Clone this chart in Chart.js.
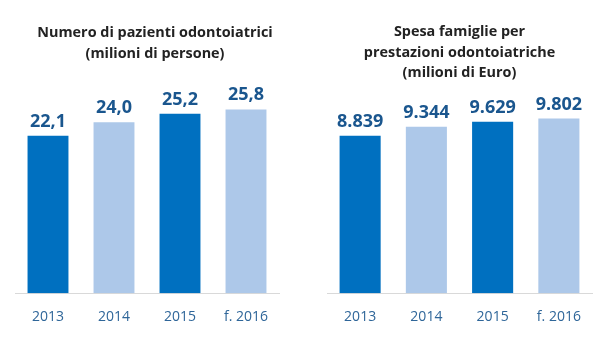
<!DOCTYPE html>
<html>
<head>
<meta charset="utf-8">
<script src="https://cdn.jsdelivr.net/npm/chart.js@4.4.1/dist/chart.umd.min.js"></script>
<style>
  html, body { margin: 0; padding: 0; background: #fff; }
  #wrap { position: relative; width: 608px; height: 342px; }
  canvas { position: absolute; top: 0; }
  #left { left: 0; }
  #right { left: 304px; }
</style>
</head>
<body>
<div id="wrap">
  <canvas id="left" width="304" height="342"></canvas>
  <canvas id="right" width="304" height="342"></canvas>
</div>
<script>
// Data
const years = ["2013", "2014", "2015", "f. 2016"];
const patients = [22.1, 24.0, 25.2, 25.8];          // milioni di persone
const spending = [8839, 9344, 9629, 9802];          // milioni di Euro
const leftTitle = ["Numero di pazienti odontoiatrici", "(milioni di persone)"];
const rightTitle = ["Spesa famiglie per", "prestazioni odontoiatriche", "(milioni di Euro)"];

const DARK = "#0070c0";
const LIGHT = "#adc8e9";
const FONT = "'Open Sans', 'Noto Sans', sans-serif";

// Italian number formats
function fmtDecimal(v) { return v.toFixed(1).replace(".", ","); }
function fmtThousands(v) { return String(v).replace(/\B(?=(\d{3})+(?!\d))/g, "."); }

// Draws the value above each bar
const valueLabels = {
    id: "valueLabels",
    afterDatasetsDraw(chart, args, opts) {
        const ctx = chart.ctx;
        const meta = chart.getDatasetMeta(0);
        ctx.save();
        ctx.font = "bold 18px " + FONT;
        ctx.fillStyle = "#1a568e";
        ctx.textAlign = "center";
        ctx.textBaseline = "alphabetic";
        meta.data.forEach((bar, i) => {
            const v = chart.data.datasets[0].data[i];
            ctx.fillText(opts.format(v), bar.x, bar.y - 9);
        });
        ctx.restore();
    }
};

function makeChart(id, values, title, yMax, fmt, pad, titlePad, rightGap) {
    const scales = {
        x: {
            grid: { display: false, drawTicks: false },
            border: { display: true, color: "#d9d9d9", width: 1 },
            ticks: { color: "#2f6699", font: { family: FONT, size: 14 }, padding: 15 }
        },
        y: { display: false, min: 0, max: yMax }
    };
    if (rightGap) {
        scales.y = {
            display: true, position: "right", min: 0, max: yMax,
            grid: { display: false, drawTicks: false },
            border: { display: false },
            ticks: { display: false },
            afterFit(scale) { scale.width = rightGap; }
        };
    }
    return new Chart(document.getElementById(id), {
        type: "bar",
        data: {
            labels: years,
            datasets: [{
                data: values,
                backgroundColor: [DARK, LIGHT, DARK, LIGHT],
                borderWidth: 0,
                categoryPercentage: 1,
                barPercentage: 0.62
            }]
        },
        options: {
            responsive: false,
            animation: false,
            layout: { padding: pad },
            scales: scales,
            plugins: {
                legend: { display: false },
                tooltip: { enabled: false },
                title: {
                    display: true,
                    text: title,
                    color: "#222",
                    font: { family: FONT, size: 14.4, weight: "bold", lineHeight: 1.42 },
                    padding: titlePad
                },
                valueLabels: { format: fmt }
            }
        },
        plugins: [valueLabels]
    });
}

makeChart("left", patients, leftTitle, 29.8, fmtDecimal,
    { left: 15, right: 9, top: 0, bottom: 2 }, { top: 23, bottom: 17 }, 16);
makeChart("right", spending, rightTitle, 11780, fmtThousands,
    { left: 23, right: 16, top: 0, bottom: 2 }, { top: 22, bottom: 0 }, 0);
</script>
</body>
</html>
